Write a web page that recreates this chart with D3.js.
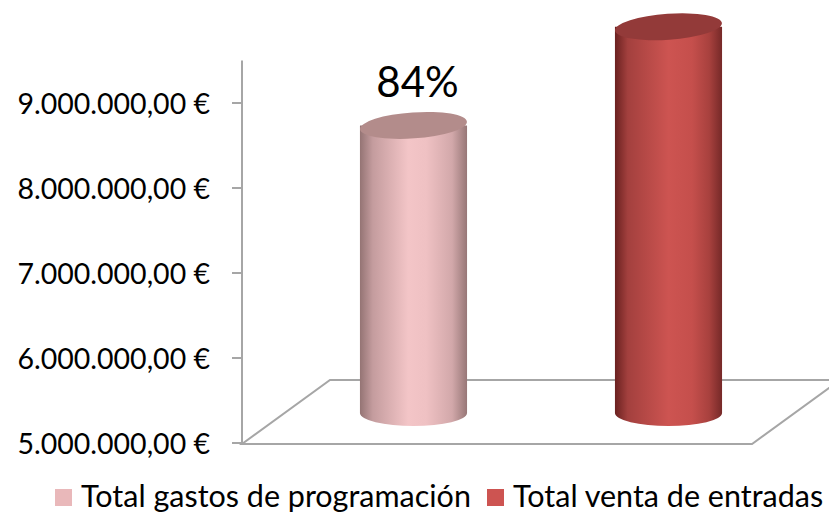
<!DOCTYPE html>
<html>
<head>
<meta charset="utf-8">
<script src="https://d3js.org/d3.v7.min.js"></script>
<style>
  body { margin: 0; background: #fff; }
  text { font-family: Lato, "Open Sans", sans-serif; fill: #000; }
</style>
</head>
<body>
<svg id="viz" width="829" height="516"></svg>
<script>
// data
var categories = ["Total gastos de programación", "Total venta de entradas"];
var values = [8360000, 9520000];
var tickValues = [5000000, 6000000, 7000000, 8000000, 9000000];
var tickLabels = ["5.000.000,00 €", "6.000.000,00 €", "7.000.000,00 €", "8.000.000,00 €", "9.000.000,00 €"];
var pctLabels = ["84%", ""];
var colors = ["#f2c4c6", "#cd5451"];

var svg = d3.select("#viz");

var axisX = 242, floorY = 444, floorRight = 752;
var depthX = 88, depthY = -64;

var y = d3.scaleLinear().domain([5000000, 9500000]).range([443, 60.5]);
var x = d3.scalePoint().domain(categories).range([axisX, floorRight]).padding(0.5);
var rx = x.step() * 0.21, ry = 13;

// gradients
var defs = svg.append("defs");
var gradStops = [
    [[0, "#947474"], [0.12, "#c49c9e"], [0.45, "#f3c5c7"], [0.62, "#efc1c3"], [0.86, "#d2a8aa"], [1, "#977777"]],
    [[0, "#6a2120"], [0.12, "#a3403e"], [0.5, "#cd5451"], [0.72, "#c54f4c"], [0.88, "#a8413e"], [1, "#762928"]]
];
gradStops.forEach(function(stops, i) {
    var g = defs.append("linearGradient").attr("id", "body" + i)
        .attr("x1", "0%").attr("x2", "100%").attr("y1", "0%").attr("y2", "0%");
    stops.forEach(function(s) {
        g.append("stop").attr("offset", s[0]).attr("stop-color", s[1]);
    });
});
var topColors = ["#b38c8b", "#933a39"];

// floor
var floorPts = [[axisX, floorY], [floorRight, floorY], [floorRight + depthX, floorY + depthY], [axisX + depthX, floorY + depthY]];
svg.append("path")
    .attr("d", d3.line()(floorPts) + "Z")
    .attr("fill", "none")
    .attr("stroke", "#a6a6a6")
    .attr("stroke-width", 2);

// axis
svg.append("line")
    .attr("x1", axisX).attr("x2", axisX)
    .attr("y1", y(9500000)).attr("y2", floorY)
    .attr("stroke", "#a6a6a6").attr("stroke-width", 2);

svg.selectAll(".tick")
    .data(tickValues)
    .enter()
    .append("line")
    .attr("x1", axisX - 10).attr("x2", axisX)
    .attr("y1", function(d) { return y(d); })
    .attr("y2", function(d) { return y(d); })
    .attr("stroke", "#a6a6a6").attr("stroke-width", 2);

svg.selectAll(".ticklabel")
    .data(tickValues)
    .enter()
    .append("text")
    .attr("x", 210)
    .attr("y", function(d) { return y(d) + 11; })
    .attr("text-anchor", "end")
    .style("font-size", "28.5px")
    .text(function(d, i) { return tickLabels[i]; });

// cylinders, sitting mid-depth on the floor
var offX = depthX / 2, offY = depthY / 2;
var bars = svg.selectAll(".bar")
    .data(values)
    .enter()
    .append("g");

bars.each(function(v, i) {
    var g = d3.select(this);
    var cx = x(categories[i]) + offX;
    var yTop = y(v) + offY;
    var yBot = y(5000000) + offY + 2;
    // body with rounded bottom
    var body = "M" + (cx - rx) + "," + yTop +
        " L" + (cx - rx) + "," + yBot +
        " A" + rx + "," + ry + " 0 0 0 " + (cx + rx) + "," + yBot +
        " L" + (cx + rx) + "," + yTop + "Z";
    g.append("path").attr("d", body).attr("fill", "url(#body" + i + ")");
    // top cap
    g.append("ellipse")
        .attr("cx", cx).attr("cy", yTop)
        .attr("rx", rx).attr("ry", ry)
        .attr("transform", "rotate(-4," + cx + "," + yTop + ")")
        .attr("fill", topColors[i]);
});

// percentage label
svg.selectAll(".pct")
    .data(values)
    .enter()
    .append("text")
    .attr("x", function(d, i) { return x(categories[i]) + offX + 4; })
    .attr("y", function(d) { return y(d) + offY - 28; })
    .attr("text-anchor", "middle")
    .style("font-size", "42px")
    .text(function(d, i) { return pctLabels[i]; });

// legend
var legendX = [55, 487];
var legend = svg.selectAll(".legend")
    .data(categories)
    .enter()
    .append("g")
    .attr("transform", function(d, i) { return "translate(" + legendX[i] + ",0)"; });

legend.append("rect")
    .attr("x", 0).attr("y", 489)
    .attr("width", 17).attr("height", 17)
    .attr("fill", function(d, i) { return i == 0 ? "#e9b8ba" : colors[1]; });

legend.append("text")
    .attr("x", 26).attr("y", 507)
    .style("font-size", "30.5px")
    .text(function(d) { return d; });
</script>
</body>
</html>
